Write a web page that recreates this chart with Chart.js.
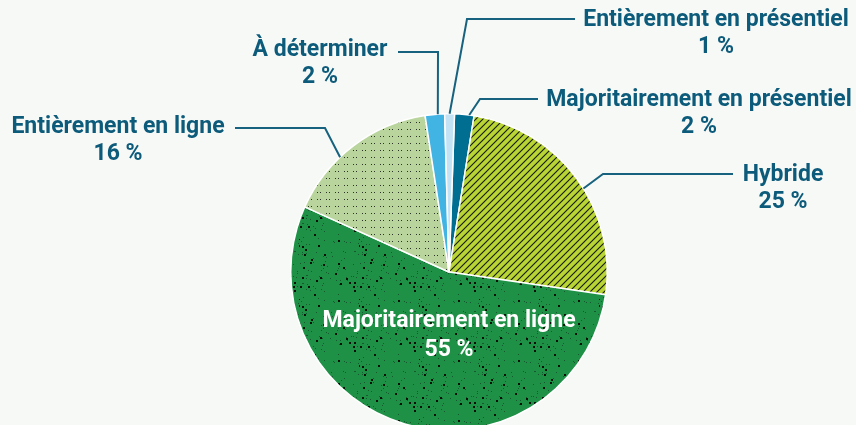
<!DOCTYPE html>
<html lang="fr">
<head>
<meta charset="utf-8">
<script src="https://cdn.jsdelivr.net/npm/chart.js@4.4.1/dist/chart.umd.min.js"></script>
<style>
    html, body { margin: 0; padding: 0; background: #f7f9f6; overflow: hidden; }
    #wrap { position: relative; width: 856px; height: 544px; }
</style>
</head>
<body>
<div id="wrap"><canvas id="pieChart" width="856" height="544"></canvas></div>
<script>
// === DATA ===
const categories = [
    'Majoritairement en présentiel',
    'Hybride',
    'Majoritairement en ligne',
    'Entièrement en ligne',
    'À déterminer',
    'Entièrement en présentiel'
];
const shares = [2, 25, 55, 16, 2, 1];
const shareLabels = ['2 %', '25 %', '55 %', '16 %', '2 %', '1 %'];

// === STYLE ===
const TEXT_COLOR = '#0d5b7b';
const LINE_COLOR = '#17627f';
const FONT = 'bold 23px Roboto, "Noto Sans", sans-serif';

// label placement: text centre, line-1 y, elbow, end of horizontal, where on the slice the leader starts
const labelLayout = [
    { tx: 699, ty: 100, elbow: [480, 99],  end: [538, 99],  frac: 0.75 },
    { tx: 783, ty: 175, elbow: [603, 174], end: [733, 174], frac: 0.55 },
    { inside: true, ty: 321 },
    { tx: 118, ty: 127, elbow: [325, 128], end: [235, 128], frac: 0.39 },
    { tx: 320, ty: 50,  elbow: [438, 52],  end: [398, 52],  frac: 0.65 },
    { tx: 716, ty: 20,  elbow: [467, 19],  end: [575, 19],  frac: 0.5 }
];

// === PATTERNS ===
function makeTile(w, h, bg, draw) {
    const c = document.createElement('canvas');
    c.width = w; c.height = h;
    const g = c.getContext('2d');
    g.fillStyle = bg;
    g.fillRect(0, 0, w, h);
    draw(g);
    return document.getElementById('pieChart').getContext('2d').createPattern(c, 'repeat');
}

const hatch = makeTile(7, 7, '#b9d435', g => {
    g.strokeStyle = '#151a08';
    g.lineWidth = 1.1;
    g.beginPath();
    g.moveTo(-1, 8); g.lineTo(8, -1);
    g.moveTo(-1, 1); g.lineTo(1, -1);
    g.moveTo(6, 8); g.lineTo(8, 6);
    g.stroke();
});

const speckle = makeTile(60, 60, '#1f9147', g => {
    // deterministic scatter of dark specks
    let s = 11;
    const next = () => { s = (s * 9301 + 49297) % 233280; return s / 233280; };
    for (let i = 0; i < 105; i++) {
        const x = Math.floor(next() * 60);
        const y = Math.floor(next() * 60);
        const big = next() > 0.8;
        g.fillStyle = big ? '#061208' : '#16592e';
        g.fillRect(x, y, big ? 2 : 1, big ? 2 : 1);
    }
});

const dotted = makeTile(9, 7, '#b9d59d', g => {
    g.fillStyle = '#2a3326';
    g.fillRect(2, 3, 1, 1);
    g.fillRect(5, 3, 1, 1);
});

const sliceColors = ['#006e90', hatch, speckle, dotted, '#42b4e4', '#c3e3f4'];

// === LEADER LINES + LABELS ===
const labelPlugin = {
    id: 'leaderLabels',
    afterDatasetsDraw(chart) {
        const ctx = chart.ctx;
        const arcs = chart.getDatasetMeta(0).data;
        ctx.save();
        ctx.font = FONT;
        ctx.textAlign = 'center';
        ctx.textBaseline = 'middle';
        arcs.forEach((arc, i) => {
            const L = labelLayout[i];
            if (L.inside) {
                ctx.fillStyle = '#ffffff';
                ctx.fillText(categories[i], arc.x, L.ty);
                ctx.fillText(shareLabels[i], arc.x, L.ty + 29);
                return;
            }
            const a = arc.startAngle + L.frac * (arc.endAngle - arc.startAngle);
            const ax = arc.x + arc.outerRadius * Math.cos(a);
            const ay = arc.y + arc.outerRadius * Math.sin(a);
            ctx.strokeStyle = LINE_COLOR;
            ctx.lineWidth = 2;
            ctx.beginPath();
            ctx.moveTo(ax, ay);
            ctx.lineTo(L.elbow[0], L.elbow[1]);
            ctx.lineTo(L.end[0], L.end[1]);
            ctx.stroke();
            ctx.fillStyle = TEXT_COLOR;
            ctx.fillText(categories[i], L.tx, L.ty);
            ctx.fillText(shareLabels[i], L.tx, L.ty + 27);
        });
        ctx.restore();
    }
};

document.fonts.load(FONT).then(drawChart, drawChart);

function drawChart() {
    new Chart(document.getElementById('pieChart'), {
        type: 'pie',
        data: {
            labels: categories,
            datasets: [{
                data: shares,
                backgroundColor: sliceColors,
                borderColor: '#ffffff',
                borderWidth: 1.5
            }]
        },
        options: {
            responsive: false,
            animation: false,
            rotation: 2,
            layout: { padding: { top: 113, bottom: 113, left: 290, right: 248 } },
            plugins: {
                legend: { display: false },
                tooltip: { enabled: false }
            }
        },
        plugins: [labelPlugin]
    });
}
</script>
</body>
</html>
